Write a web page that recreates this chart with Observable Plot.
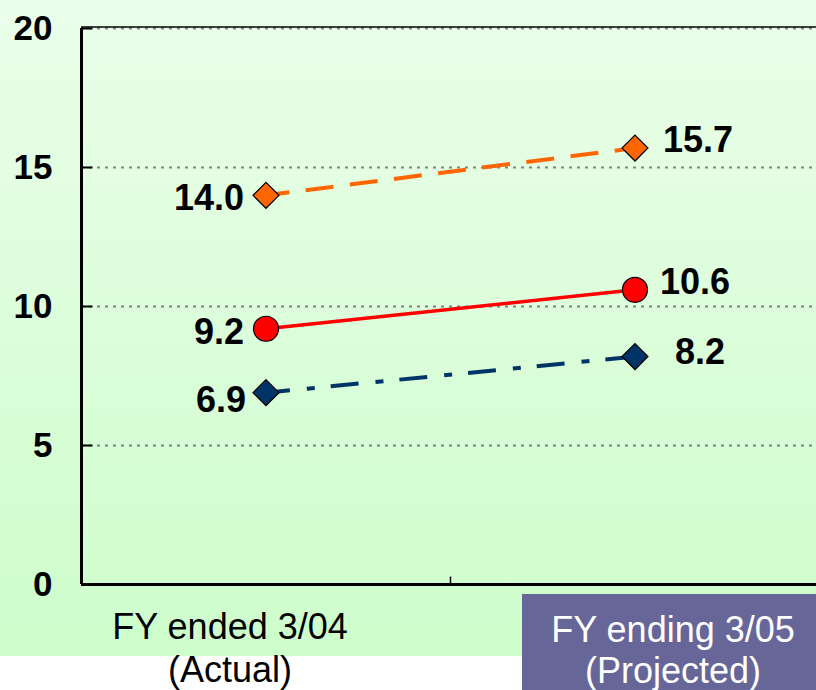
<!DOCTYPE html>
<html>
<head>
<meta charset="utf-8">
<script src="https://cdn.jsdelivr.net/npm/d3@7"></script>
<script src="https://cdn.jsdelivr.net/npm/@observablehq/plot@0.6"></script>
<style>
  html, body { margin: 0; padding: 0; background: #ffffff; }
  #wrap { position: relative; width: 816px; height: 690px; overflow: hidden; font-family: "Liberation Sans", Arial, sans-serif; }
  #bg { position: absolute; left: 0; top: 0; width: 816px; height: 656px; background: linear-gradient(to bottom, #ebfeea 0%, #cdfdcb 100%); }
  #proj { position: absolute; left: 522px; top: 594px; width: 294px; height: 96px; background: #666699; }
  #chart { position: absolute; left: 0; top: 0; }
</style>
</head>
<body>
<div id="wrap">
  <div id="bg"></div>
  <div id="proj"></div>
  <div id="chart"></div>
</div>
<script>
// Categories (x positions 0 and 1)
const periods = ["FY ended 3/04\n(Actual)", "FY ending 3/05\n(Projected)"];
const periodIndex = [0, 1];
// Series values
const orangeValues = [14.0, 15.7];
const redValues = [9.2, 10.6];
const navyValues = [6.9, 8.2];
// Axis ticks
const yTicks = [0, 5, 10, 15, 20];

const toRows = (vals) => periodIndex.map((i) => ({x: i, y: vals[i], label: vals[i].toFixed(1)}));
const orange = toRows(orangeValues);
const red = toRows(redValues);
const navy = toRows(navyValues);

// custom tick symbols (inward ticks)
const tickRight = {draw(ctx) { ctx.moveTo(0, 0); ctx.lineTo(11, 0); }};
const tickUp = {draw(ctx) { ctx.moveTo(0, 0); ctx.lineTo(0, -8); }};

const labelFont = {fontSize: 36, fontWeight: "bold", fill: "#000"};

const chart = Plot.plot({
  width: 816,
  height: 690,
  marginLeft: 81,
  marginRight: 0,
  marginTop: 28,
  marginBottom: 106,
  style: {background: "transparent", fontFamily: "'Liberation Sans', Arial, sans-serif", overflow: "visible"},
  x: {domain: [-0.5, 1.5], range: [81, 819], axis: null},
  y: {domain: [0, 20], axis: null},
  marks: [
    // gridlines
    Plot.ruleY(yTicks.filter((d) => d > 0), {stroke: "#808080", strokeWidth: 2, strokeDasharray: "3,5", strokeOpacity: 1}),
    // top border
    Plot.ruleY([20], {stroke: "#000", strokeWidth: 1.5, dy: -1.5}),
    // y axis labels
    Plot.axisY({ticks: yTicks, label: null, tickSize: 0, tickPadding: 29, fontSize: 35, fontWeight: "bold", color: "#000", tickFormat: (d) => String(d)}),
    // y ticks (inward)
    Plot.dot(yTicks, {x: () => -0.5, y: (d) => d, symbol: tickRight, stroke: "#000", strokeWidth: 2, fill: "none"}),
    // middle x tick
    Plot.dot([0.5], {x: (d) => d, y: () => 0, symbol: tickUp, stroke: "#000", strokeWidth: 1.5, fill: "none"}),
    // axes lines
    Plot.ruleX([-0.5], {stroke: "#000", strokeWidth: 3}),
    Plot.ruleY([0], {stroke: "#000", strokeWidth: 3}),
    // lines
    Plot.line(orange, {x: "x", y: "y", stroke: "#ff6600", strokeWidth: 4, strokeDasharray: "28,16.5", strokeDashoffset: 4.5, strokeLinecap: "butt"}),
    Plot.line(red, {x: "x", y: "y", stroke: "#ff0000", strokeWidth: 3.5}),
    Plot.line(navy, {x: "x", y: "y", stroke: "#003366", strokeWidth: 4, strokeDasharray: "28,17,8,16", strokeDashoffset: 4, strokeLinecap: "butt"}),
    // markers
    Plot.dot(orange, {x: "x", y: "y", symbol: "diamond2", r: 11.7, fill: "#ff6600", stroke: "#000", strokeWidth: 1.2}),
    Plot.dot(red, {x: "x", y: "y", symbol: "circle", r: 12.5, fill: "#ff0000", stroke: "#000", strokeWidth: 1.2}),
    Plot.dot(navy, {x: "x", y: "y", symbol: "diamond2", r: 11.7, fill: "#003366", stroke: "#000", strokeWidth: 1.2}),
    // value labels (left)
    Plot.text([orange[0]], {x: "x", y: "y", text: "label", textAnchor: "end", dx: -22, dy: 3, ...labelFont}),
    Plot.text([red[0]], {x: "x", y: "y", text: "label", textAnchor: "end", dx: -22, dy: 4, ...labelFont}),
    Plot.text([navy[0]], {x: "x", y: "y", text: "label", textAnchor: "end", dx: -20, dy: 8, ...labelFont}),
    // value labels (right)
    Plot.text([orange[1]], {x: "x", y: "y", text: "label", textAnchor: "start", dx: 28, dy: -8, ...labelFont}),
    Plot.text([red[1]], {x: "x", y: "y", text: "label", textAnchor: "start", dx: 25, dy: -7, ...labelFont}),
    Plot.text([navy[1]], {x: "x", y: "y", text: "label", textAnchor: "start", dx: 40, dy: -4, ...labelFont}),
    // category labels
    Plot.text([0], {x: (d) => d, text: (d) => periods[d], frameAnchor: "bottom", lineAnchor: "top", dx: -36, dy: 24, fontSize: 36, lineHeight: 1.19, fill: "#000"}),
    Plot.text([1], {x: (d) => d, text: (d) => periods[d], frameAnchor: "bottom", lineAnchor: "top", dx: 38, dy: 28, fontSize: 36, lineHeight: 1.14, fill: "#ffffff"})
  ]
});
document.getElementById("chart").appendChild(chart);
</script>
</body>
</html>
